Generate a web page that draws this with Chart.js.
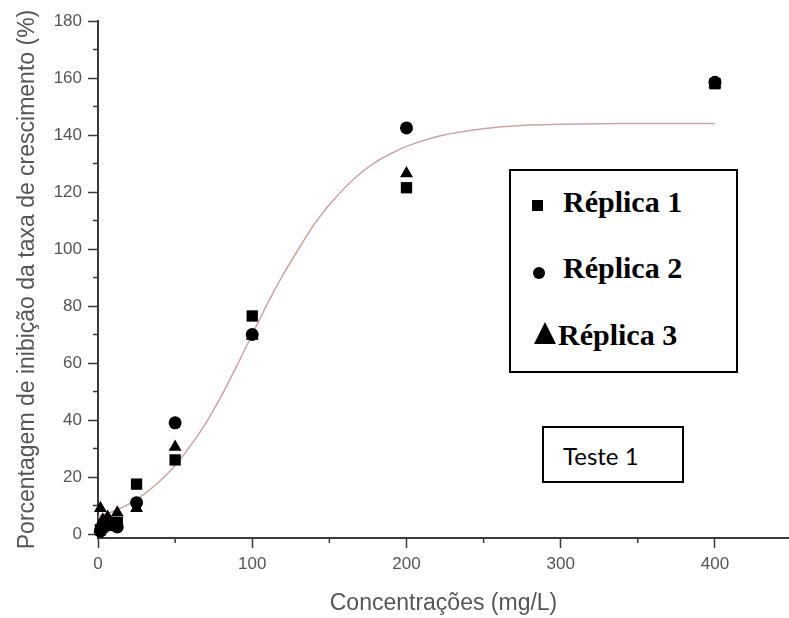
<!DOCTYPE html>
<html>
<head>
<meta charset="utf-8">
<script src="https://cdn.jsdelivr.net/npm/chart.js@4.4.1/dist/chart.umd.min.js"></script>
<style>
	body { margin: 0; background: #fff; }
	#wrap { position: relative; width: 789px; height: 618px; overflow: hidden; }
	#area { position: absolute; left: 0; top: 0; width: 797px; height: 618px; }
	.box { position: absolute; border: 2px solid #000; background: #fff; box-sizing: border-box; }
	#legenda { left: 509px; top: 169px; width: 229px; height: 204px; }
	#teste { left: 542px; top: 426px; width: 142px; height: 57px; }
	.txt { position: absolute; white-space: nowrap; color: #000; font-family: "Liberation Serif", "Times New Roman", serif; font-weight: bold; font-size: 30px; line-height: 30px; }
	.mk { position: absolute; background: #000; }
	.tri { position: absolute; width: 0; height: 0; border-left: 11.5px solid transparent; border-right: 11.5px solid transparent; border-bottom: 22px solid #000; }
	#teste .txt { font-family: Lato, "Open Sans", sans-serif; font-weight: normal; font-size: 24px; line-height: 24px; }
</style>
</head>
<body>
<div id="wrap">
	<div id="area"><canvas id="myChart"></canvas></div>
	<div id="legenda" class="box">
		<div class="mk" style="left:21px; top:29px; width:11px; height:11px;"></div>
		<div class="txt" style="left:52px; top:16px;">Réplica 1</div>
		<div class="mk" style="left:22px; top:96px; width:12px; height:12px; border-radius:50%;"></div>
		<div class="txt" style="left:52px; top:82px;">Réplica 2</div>
		<div class="tri" style="left:23px; top:151px;"></div>
		<div class="txt" style="left:47px; top:149px;">Réplica 3</div>
	</div>
	<div id="teste" class="box">
		<div class="txt" style="left:19px; top:16px;">Teste 1</div>
	</div>
</div>
<script>
// valores
const concentracoes = [1.56, 3.125, 6.25, 12.5, 25, 50, 100, 200, 400];
const replica1 = [1.5, 2.5, 3, 4, 17.5, 26, 76.5, 121.5, 158];
const replica2 = [1, 3, 4, 2.5, 11, 39, 70, 142.5, 158.5];
const replica3 = [9, 5, 6, 7.5, 9, 30.5, 69.5, 126.5, 158];

// curva ajustada (lida ponto a ponto)
const ajusteX = [0, 10, 20, 30, 40, 50, 60, 70, 80, 90, 100, 110, 120, 130, 140, 150, 160, 170, 180, 190, 200, 220, 240, 260, 280, 300, 340, 400];
const ajusteY = [6, 8, 10.5, 14, 18.5, 24, 31, 39, 48.5, 59, 70, 81, 91, 100, 108.5, 115.5, 121.5, 126.5, 130.5, 133.5, 136, 139.5, 141.5, 142.8, 143.5, 143.8, 144, 144];

const xTicks = [0, 100, 200, 300, 400];
const xMinor = [50, 150, 250, 350];
const yTicks = [0, 20, 40, 60, 80, 100, 120, 140, 160, 180];
const yMinor = [10, 30, 50, 70, 90, 110, 130, 150, 170];

const corEixo = '#3a3a3a';
const corTexto = '#555';

function pontos(ys) {
	return concentracoes.map((c, i) => ({x: c, y: ys[i]}));
}

const minorTicks = {
	id: 'minorTicks',
	afterDraw(chart) {
		const {ctx, chartArea} = chart;
		const x = chart.scales.x, y = chart.scales.y;
		ctx.save();
		ctx.strokeStyle = corEixo;
		ctx.lineWidth = 1.5;
		ctx.beginPath();
		xMinor.forEach(v => {
			const px = x.getPixelForValue(v);
			ctx.moveTo(px, chartArea.bottom);
			ctx.lineTo(px, chartArea.bottom + 5);
		});
		yMinor.forEach(v => {
			const py = y.getPixelForValue(v);
			ctx.moveTo(chartArea.left, py);
			ctx.lineTo(chartArea.left - 5, py);
		});
		ctx.stroke();
		ctx.restore();
	}
};

const data = {
	datasets: [
		{
			label: 'Ajuste',
			data: ajusteX.map((v, i) => ({x: v, y: ajusteY[i]})),
			showLine: true,
			borderColor: '#cfa3a3',
			borderWidth: 1.5,
			pointRadius: 0,
			cubicInterpolationMode: 'monotone',
			order: 10
		},
		{
			label: 'Réplica 1',
			data: pontos(replica1),
			pointStyle: 'rect',
			pointRadius: 8,
			backgroundColor: '#000',
			borderColor: '#000',
			borderWidth: 0,
			clip: false,
			order: 3
		},
		{
			label: 'Réplica 2',
			data: pontos(replica2),
			pointStyle: 'circle',
			pointRadius: 6.5,
			backgroundColor: '#000',
			borderColor: '#000',
			borderWidth: 0,
			clip: false,
			order: 2
		},
		{
			label: 'Réplica 3',
			data: pontos(replica3),
			pointStyle: 'triangle',
			pointRadius: 7.5,
			backgroundColor: '#000',
			borderColor: '#000',
			borderWidth: 0,
			clip: false,
			order: 1
		}
	]
};

const config = {
	type: 'scatter',
	data: data,
	plugins: [minorTicks],
	options: {
		responsive: true,
		maintainAspectRatio: false,
		animation: false,
		layout: { padding: { top: 21, right: 0, bottom: 0, left: 0 } },
		plugins: {
			legend: { display: false },
			tooltip: { enabled: false }
		},
		scales: {
			x: {
				type: 'linear',
				min: 0,
				max: 448,
				afterBuildTicks: s => { s.ticks = xTicks.map(v => ({value: v})); },
				afterFit: s => { s.height = 80; },
				border: { display: true, color: corEixo, width: 2 },
				grid: { drawOnChartArea: false, drawTicks: true, tickLength: 10, tickColor: corEixo, tickWidth: 1.5 },
				ticks: { color: corTexto, padding: 6, font: { family: '"Liberation Sans", Arial, sans-serif', size: 17 } },
				title: {
					display: true,
					text: 'Concentrações (mg/L)',
					color: corTexto,
					padding: { top: 0, bottom: 1 },
					font: { family: '"Liberation Sans", Arial, sans-serif', size: 23 }
				}
			},
			y: {
				type: 'linear',
				min: -1.4,
				max: 180,
				afterBuildTicks: s => { s.ticks = yTicks.map(v => ({value: v})); },
				afterFit: s => { s.width = 98; },
				border: { display: true, color: corEixo, width: 2 },
				grid: { drawOnChartArea: false, drawTicks: true, tickLength: 10, tickColor: corEixo, tickWidth: 1.5 },
				ticks: { color: corTexto, padding: 6, font: { family: '"Liberation Sans", Arial, sans-serif', size: 17 } },
				title: {
					display: true,
					text: 'Porcentagem de inibição da taxa de crescimento (%)',
					color: corTexto,
					padding: { top: 14, bottom: 0 },
					font: { family: '"Liberation Sans", Arial, sans-serif', size: 23 }
				}
			}
		}
	}
};

let ctx = document.getElementById('myChart').getContext('2d');
new Chart(ctx, config);
</script>
</body>
</html>
